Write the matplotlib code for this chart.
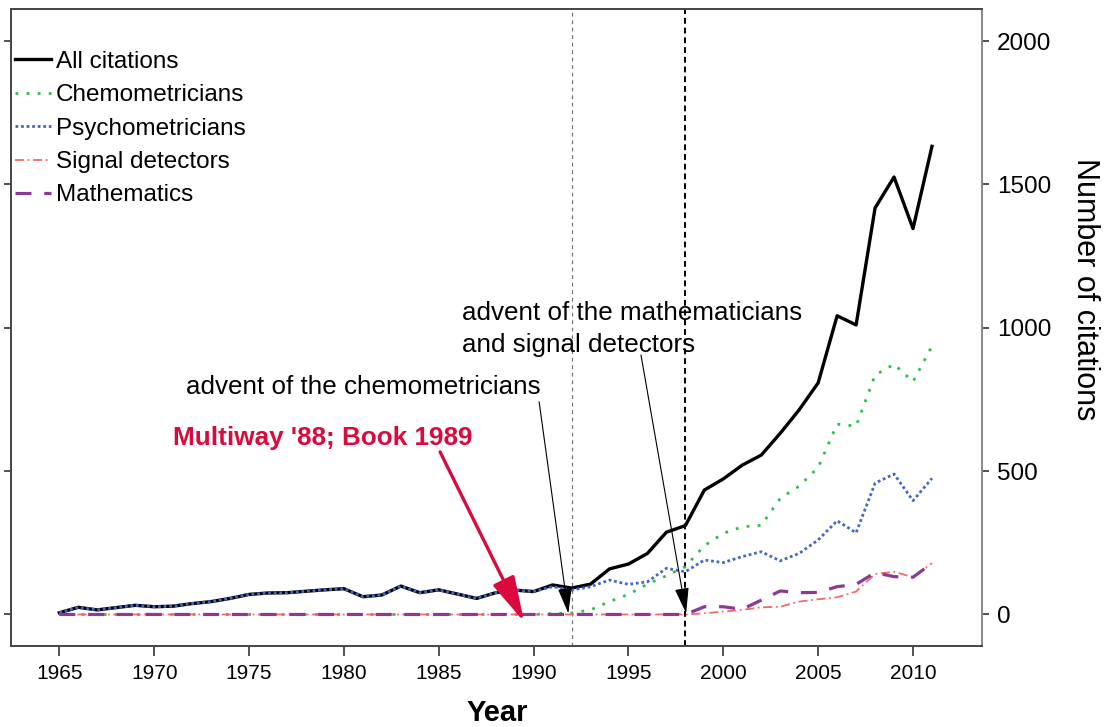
import numpy as np
import matplotlib.pyplot as plt

plt.rcParams['font.family'] = ['Liberation Sans', 'DejaVu Sans']

# citations per year
years = np.arange(1965, 2012)

all_citations = [6, 25, 16, 24, 32, 27, 29, 38, 45, 56,
                 70, 75, 76, 81, 86, 90, 62, 68, 99, 76,
                 86, 71, 56, 76, 85, 80, 103, 92, 106, 159,
                 176, 213, 287, 310, 434, 473, 521, 556, 632, 714,
                 808, 1042, 1010, 1418, 1526, 1346, 1633]

psychometricians = [6, 25, 16, 24, 32, 27, 29, 38, 45, 56,
                    70, 75, 76, 81, 86, 90, 62, 68, 99, 76,
                    86, 71, 56, 76, 85, 80, 97, 85, 97, 120,
                    105, 114, 161, 149, 190, 181, 202, 219, 187, 213,
                    260, 327, 285, 458, 490, 397, 475]

chemometricians = [0] * 26 + [3, 5, 16, 45, 70, 106, 135, 167, 240, 283,
                              306, 311, 405, 448, 513, 664, 657, 835, 873,
                              812, 936]

signal_detectors = [0] * 34 + [4, 10, 16, 25, 27, 45, 53, 60, 80, 141,
                               149, 130, 179]

mathematics = [0] * 34 + [27, 27, 18, 50, 82, 76, 77, 97, 105, 146,
                          132, 130, 179]

fig = plt.figure(figsize=(11.1, 7.27), dpi=100)
ax = fig.add_axes([0.0099, 0.1114, 0.8745, 0.8758])

ax.plot(years, all_citations, color='black', lw=2.4, label='All citations', zorder=3)
ax.plot(years, psychometricians, color='#4466c8', lw=2.0, dashes=(1, 1),
        label='Psychometricians', zorder=4)
ax.plot(years, chemometricians, color='#2ebd4e', lw=2.0, dashes=(1, 3),
        label='Chemometricians', zorder=4)
ax.plot(years, signal_detectors, color='#f26a6a', lw=1.3, dashes=(5, 2, 1, 2),
        label='Signal detectors', zorder=5)
ax.plot(years, mathematics, color='#8b3a94', lw=2.3, dashes=(5, 4),
        label='Mathematics', zorder=6)

# vertical markers
ax.axvline(1992, color='#777777', lw=0.9, dashes=(3, 3), zorder=2)
ax.axvline(1998, color='black', lw=1.4, dashes=(3, 2), zorder=2)

# legend in the fixed order of the original
h, l = ax.get_legend_handles_labels()
order = ['All citations', 'Chemometricians', 'Psychometricians',
         'Signal detectors', 'Mathematics']
hd = dict(zip(l, h))
ax.legend([hd[k] for k in order], order, loc='upper left',
          bbox_to_anchor=(0.004, 0.935), frameon=False, fontsize=17.5,
          handlelength=1.5, handletextpad=0.2, labelspacing=0.47,
          borderpad=0, borderaxespad=0)

# annotations
ax.text(1971.68, 795, 'advent of the chemometricians', fontsize=18.7,
        va='center', ha='left')
ax.annotate('', xy=(1991.83, 4), xytext=(1990.29, 742),
            arrowprops=dict(arrowstyle='-|>,head_length=0.8,head_width=0.22',
                            mutation_scale=20, lw=0.8, color='black',
                            shrinkA=0, shrinkB=0), zorder=7)

ax.text(1986.23, 996, 'advent of the mathematicians\nand signal detectors',
        fontsize=18.7, va='center', ha='left', linespacing=1.4)
ax.annotate('', xy=(1998.04, 4), xytext=(1995.66, 905),
            arrowprops=dict(arrowstyle='-|>,head_length=0.8,head_width=0.22',
                            mutation_scale=20, lw=0.8, color='black',
                            shrinkA=0, shrinkB=0), zorder=7)

red = '#dc0a3c'
ax.text(1971.01, 615, "Multiway '88; Book 1989", fontsize=18.8,
        fontweight='bold', color=red, va='center', ha='left')
ax.annotate('', xy=(1989.5, -26), xytext=(1985.07, 567),
            arrowprops=dict(arrowstyle='-|>,head_length=1.4,head_width=0.36',
                            mutation_scale=20, lw=2.4, color=red,
                            shrinkA=0, shrinkB=0), zorder=8)

# axes
ax.set_xlim(1962.45, 2013.62)
ax.set_ylim(-110, 2111)
ax.set_xticks(np.arange(1965, 2011, 5))
ax.set_yticks([0, 500, 1000, 1500, 2000])
ax.tick_params(axis='x', direction='out', length=7, width=1.2, pad=6,
               labelsize=15, color='#333333')
ax.tick_params(axis='y', direction='out', left=True, right=True,
               labelleft=False, labelright=True, length=5, width=1.2,
               pad=6, labelsize=17.5, color='#333333')

for side in ['left', 'top', 'bottom']:
    ax.spines[side].set_color('#444444')
    ax.spines[side].set_linewidth(1.4)
ax.spines['right'].set_color('#888888')
ax.spines['right'].set_linewidth(1.4)

ax.set_xlabel('Year', fontsize=21, fontweight='bold')
ax.xaxis.set_label_coords(0.5007, -0.105)
ax.xaxis.label.set_va('center')

ax.yaxis.set_label_position('right')
ax.set_ylabel('Number of citations', fontsize=22, rotation=270)
ax.yaxis.set_label_coords(1.1064, 0.5607)
ax.yaxis.label.set_va('center')

fig.savefig('out.png', dpi=100)
